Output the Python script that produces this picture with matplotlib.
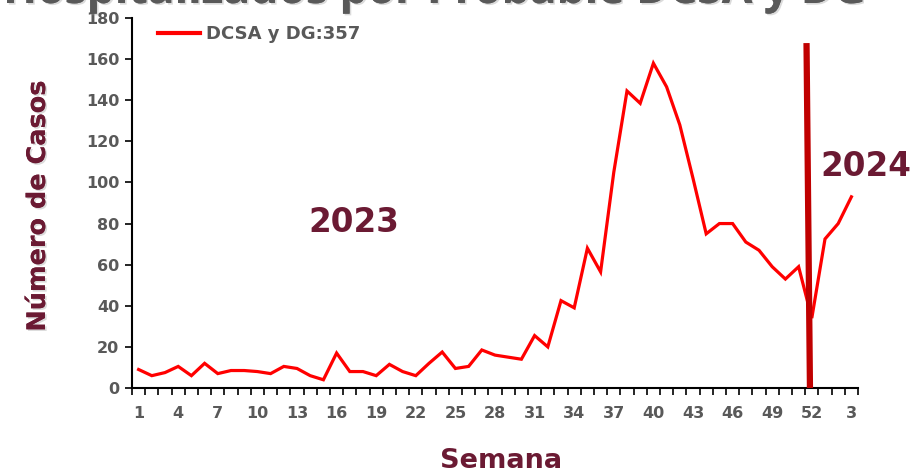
import matplotlib
matplotlib.use("Agg")
import matplotlib.pyplot as plt
import matplotlib.patheffects as pe
import numpy as np

# ---- data ----
weeks = list(range(1, 53)) + [1, 2, 3]
cases = [9, 6, 7.5, 10.5, 6, 12, 7, 8.5, 8.5, 8, 7, 10.5, 9.5, 6, 4,
         17, 8, 8, 6, 11.5, 8, 6, 12, 17.5, 9.5, 10.5, 18.5, 16, 15, 14,
         25.5, 20, 42.5, 39, 68, 56.5, 105, 144.5, 138.5, 158, 146.5, 128,
         102, 75, 80, 80, 71, 67, 59, 53, 59, 34,
         72.5, 80, 93]
legend_label = "DCSA y DG:357"
title_text = "Hospitalizados por Probable DCSA y DG"
divider_x = [51.6, 51.86]
divider_y = [167.8, 0]

maroon = "#6B1A33"
grey = "#595959"
fam = ["DejaVu Sans"]

fig = plt.figure(figsize=(9.18, 4.73), dpi=100)
ax = fig.add_axes([132/918, 1-388/473, (858-132)/918, (388-18)/473])

x = np.arange(1, len(cases) + 1)
ax.plot(x, cases, color="#FF0000", lw=2.3, label=legend_label, zorder=3,
        solid_joinstyle="miter")
ax.plot(divider_x, divider_y, color="#C00000", lw=4.5, zorder=4,
        solid_capstyle="butt")

ax.set_xlim(0.5, len(cases) + 0.5)
ax.set_ylim(0, 180)
ax.set_yticks(np.arange(0, 181, 20))
ax.set_xticks(np.arange(0.5, len(cases) + 1, 1), minor=False)
ax.set_xticklabels([])
ax.set_xticks(x[::3], minor=True)
ax.set_xticklabels([str(weeks[i]) for i in range(0, len(weeks), 3)], minor=True)
ax.tick_params(axis="x", which="major", length=5, width=1.2, direction="out", color="black")
ax.tick_params(axis="x", which="minor", length=0, pad=13, labelsize=11.5, labelcolor=grey)
ax.tick_params(axis="y", length=5, width=1.2, direction="out", pad=4,
               labelsize=11.5, labelcolor=grey)
for lab in ax.get_xticklabels(minor=True) + ax.get_yticklabels():
    lab.set_fontfamily(fam)
    lab.set_fontweight("bold")

for s in ["top", "right"]:
    ax.spines[s].set_visible(False)
for s in ["left", "bottom"]:
    ax.spines[s].set_linewidth(1.5)
    ax.spines[s].set_color("black")

leg = fig.legend(handles=ax.get_lines()[:1], loc="upper left", frameon=False,
                 handlelength=2.3, handletextpad=0.38, borderpad=0, borderaxespad=0,
                 bbox_to_anchor=(158/918, 1-25/473),
                 prop={"family": fam, "weight": "bold", "size": 13})
for t in leg.get_texts():
    t.set_color(grey)
for h in leg.get_lines():
    h.set_linewidth(3)

shadow = [pe.withSimplePatchShadow(offset=(1.2, -1.2), shadow_rgbFace="#999999", alpha=0.35), pe.Normal()]

fig.text(38/918, 1-206/473, "Número de Casos", rotation=90, ha="center", va="center",
         color=maroon, fontsize=18.4, fontweight="bold", family=fam, path_effects=shadow)
fig.text(501/918, 1-461/473, "Semana", ha="center", va="center",
         color=maroon, fontsize=19.5, fontweight="bold", family=fam)
fig.text(354/918, 1-222/473, "2023", ha="center", va="center",
         color=maroon, fontsize=23.5, fontweight="bold", family=fam)
fig.text(866/918, 1-166/473, "2024", ha="center", va="center",
         color=maroon, fontsize=23.5, fontweight="bold", family=fam)
fig.text(435/918, 1-3/473, title_text, ha="center", va="baseline",
         color=grey, fontsize=32, fontweight="bold", family=["Open Sans"], path_effects=shadow)

fig.savefig("out.png", dpi=100)
